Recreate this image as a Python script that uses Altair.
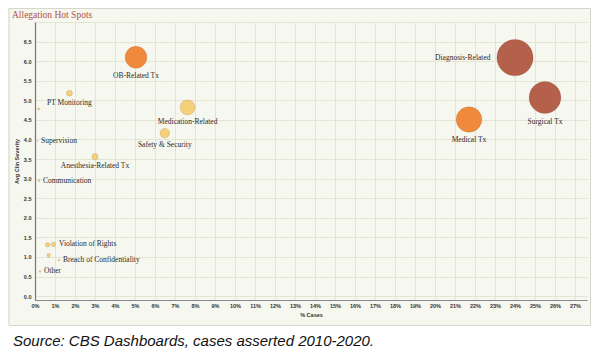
import altair as alt
import pandas as pd

# ---- data ----
allegations = ["OB-Related Tx", "Diagnosis-Related", "Surgical Tx", "Medical Tx",
               "Medication-Related", "Safety & Security", "PT Monitoring", "",
               "Supervision", "Anesthesia-Related Tx", "Communication", "",
               "Violation of Rights", "", "Breach of Confidentiality", "Other"]
pct_cases = [5.05, 24.0, 25.5, 21.7, 7.63, 6.49, 1.72, 0.18,
             0.12, 3.0, 0.2, 0.63, 0.92, 0.68, 1.2, 0.25]
avg_severity = [6.10, 6.09, 5.07, 4.51, 4.82, 4.16, 5.18, 4.78,
                3.96, 3.56, 2.95, 1.31, 1.32, 1.04, 0.92, 0.63]
weight = [36, 100, 77, 50, 17, 7, 2.7, 0.35,
          0.1, 2.9, 0.25, 1.5, 1.5, 1.0, 0.25, 0.25]
tier = ["mid", "high", "high", "mid", "low", "low", "low", "low",
        "low", "low", "low", "low", "low", "low", "low", "low"]
label_pos = ["below", "left", "below", "below", "below", "below", "below", "below",
             "right", "below", "right", "right", "right", "right", "right", "right"]

x_ticks = list(range(0, 28))
y_ticks = [i * 0.5 for i in range(0, 15)]

df = pd.DataFrame({
    "name": allegations, "pct": pct_cases, "sev": avg_severity,
    "w": weight, "tier": tier, "pos": label_pos,
})

BG = "#f6f7ef"
GRID = "#e2e5d2"
W, H = 552, 278
XMAX, YMIN, YMAX = 27.6, -0.1, 7.0
PX_X = W / XMAX
PX_Y = H / (YMAX - YMIN)
AREA_PER_W = 13.2

xscale = alt.Scale(domain=[0, XMAX], nice=False, zero=False)
yscale = alt.Scale(domain=[YMIN, YMAX], nice=False, zero=False)

xaxis = alt.Axis(values=x_ticks, labelExpr="datum.value + '%'", grid=True,
                 gridColor=GRID, gridWidth=1, domainColor="#8a8a8a", domainWidth=1.2,
                 ticks=False, labelFont="Liberation Sans", labelFontSize=5.5,
                 labelFontWeight="bold", labelColor="#333", labelPadding=3,
                 labelFlush=False, labelOverlap=False,
                 titleFont="Liberation Sans", titleFontSize=5.5, titleFontWeight="bold",
                 titleColor="#333", titlePadding=4)
yaxis = alt.Axis(values=y_ticks + [7.0],
                 labelExpr="datum.value >= 7 ? '' : format(datum.value, '.1f')",
                 grid=True, gridColor=GRID, gridWidth=1, domainColor="#777",
                 domainWidth=1.2, ticks=False, labelFont="Liberation Sans",
                 labelFontSize=5.5, labelFontWeight="bold", labelColor="#333",
                 labelPadding=4, labelFlush=False, labelOverlap=False,
                 titleFont="Liberation Sans", titleFontSize=5.5, titleFontWeight="bold",
                 titleColor="#333", titlePadding=4)

color = alt.Color("tier:N", scale=alt.Scale(domain=["high", "mid", "low"],
                                            range=["#b4604b", "#ef8a3d", "#f4d07a"]),
                  legend=None)

bubbles = alt.Chart(df).mark_circle(opacity=1, stroke="#6b3a25", strokeWidth=0.6,
                                    strokeOpacity=0.25).encode(
    x=alt.X("pct:Q", scale=xscale, axis=xaxis, title="% Cases"),
    y=alt.Y("sev:Q", scale=yscale, axis=yaxis, title="Avg Clin Severity"),
    size=alt.Size("w:Q", scale=alt.Scale(type="linear", domain=[0, 100],
                                         range=[0, 100 * AREA_PER_W]), legend=None),
    color=color,
)

labels_base = alt.Chart(df).transform_filter("datum.name != ''").transform_calculate(
    r=f"sqrt(datum.w * {AREA_PER_W} / PI)"
).transform_calculate(
    lx=f"datum.pos == 'right' ? datum.pct + (datum.r + 3) / {PX_X} : "
       f"(datum.pos == 'left' ? datum.pct - (datum.r + 4) / {PX_X} : datum.pct)",
    ly=f"datum.pos == 'below' ? datum.sev - (datum.r + 6) / {PX_Y} : datum.sev",
)

def label_layer(pos, align):
    return labels_base.transform_filter(f"datum.pos == '{pos}'").mark_text(
        align=align, baseline="middle", font="Liberation Serif", fontSize=7.5,
        color="#2b2b2b"
    ).encode(
        x=alt.X("lx:Q", scale=xscale, axis=xaxis, title="% Cases"),
        y=alt.Y("ly:Q", scale=yscale, axis=yaxis, title="Avg Clin Severity"),
        text="name:N",
    )

one = pd.DataFrame({"k": [0]})

white_strip = alt.Chart(one).mark_rect(color="white").encode(
    x=alt.value(-40), x2=alt.value(620), y=alt.value(303.5), y2=alt.value(400))

border = alt.Chart(one).mark_rect(filled=False, stroke="#d3d7cc", strokeWidth=1).encode(
    x=alt.value(-26), x2=alt.value(555.5), y=alt.value(-13.5), y2=alt.value(303.5))

title = alt.Chart(one).mark_text(
    text="Allegation Hot Spots", align="left", baseline="middle",
    font="Liberation Serif", fontSize=9.5, color="#b0504a"
).encode(x=alt.value(-23), y=alt.value(-7))

source = alt.Chart(one).mark_text(
    text="Source: CBS Dashboards, cases asserted 2010-2020.", align="left",
    baseline="middle", font="Liberation Sans", fontStyle="italic", fontSize=15,
    color="#111"
).encode(x=alt.value(-22), y=alt.value(319))

chart = alt.layer(
    white_strip, bubbles,
    label_layer("below", "center"), label_layer("left", "right"),
    label_layer("right", "left"),
    border, title, source,
).properties(
    width=W, height=H,
    autosize=alt.AutoSizeParams(type="none"),
    padding={"left": 27, "top": 14, "right": 4, "bottom": 54},
).configure(background=BG).configure_view(stroke=None, fill=BG)

chart.save("out.html", embed_options={"renderer": "svg", "actions": False})
